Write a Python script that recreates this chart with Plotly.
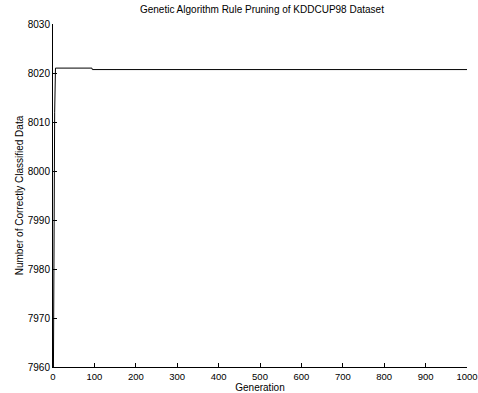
import plotly.graph_objects as go

title = "Genetic Algorithm Rule Pruning of KDDCUP98 Dataset"
generation = [1, 2, 4, 6, 94, 95, 1000]
correct = [7958, 7985, 8012, 8021, 8021, 8020.7, 8020.7]
x_ticks = [0, 100, 200, 300, 400, 500, 600, 700, 800, 900, 1000]
y_ticks = [7960, 7970, 7980, 7990, 8000, 8010, 8020, 8030]

fig = go.Figure()
fig.add_trace(go.Scatter(x=generation, y=correct, mode="lines",
                         line=dict(color="black", width=1), showlegend=False))

font = dict(family="Liberation Sans, Arial, sans-serif", size=10, color="black")
fig.update_layout(
    width=478, height=393,
    margin=dict(l=53, r=11, t=24, b=26, autoexpand=False),
    paper_bgcolor="white", plot_bgcolor="white",
    font=font,
    title=dict(text=title, x=0.548, xanchor="center", y=0.975, yanchor="middle",
               font=dict(size=10, color="black")),
    xaxis=dict(range=[0, 1000], tickvals=x_ticks, ticks="inside", ticklen=4,
               showgrid=False, zeroline=False, showline=True, linecolor="black",
               linewidth=1, tickcolor="black", automargin=False,
               ticklabeloverflow="allow", ticklabelstandoff=1,
               tickfont=dict(size=9.5),
               title=dict(text="Generation", standoff=0, font=dict(size=10))),
    yaxis=dict(range=[7960, 8030], tickvals=y_ticks, ticks="inside", ticklen=4,
               showgrid=False, zeroline=False, showline=True, linecolor="black",
               linewidth=1, tickcolor="black", automargin=False,
               ticklabeloverflow="allow",
               title=dict(text="Number of Correctly Classified Data", standoff=2,
                          font=dict(size=10))),
)
fig.write_html(
    "out.html",
    config={"displayModeBar": False},
    post_script="document.body.style.margin='0';document.body.style.overflow='hidden';",
)
